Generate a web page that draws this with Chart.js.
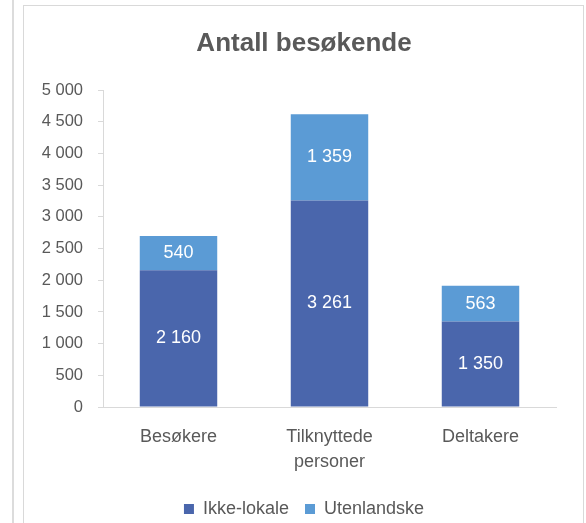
<!DOCTYPE html>
<html>
<head>
<meta charset="utf-8">
<script src="https://cdn.jsdelivr.net/npm/chart.js@4.4.1/dist/chart.umd.min.js"></script>
<style>
  body { margin: 0; background: #fff; overflow: hidden; }
  #sideLine { position: absolute; left: 12px; top: 0; width: 2px; height: 530px; background: #dcdcdc; }
  #frame { position: absolute; left: 23px; top: 5px; width: 561px; height: 600px; border: 1px solid #d9d9d9; box-sizing: border-box; }
  #wrap { position: absolute; left: 0; top: 0; width: 586px; height: 528px; }
</style>
</head>
<body>
<div id="sideLine"></div>
<div id="frame"></div>
<div id="wrap"><canvas id="myChart"></canvas></div>
<script>
// Chart data
const categories = [['Besøkere'], ['Tilknyttede', 'personer'], ['Deltakere']];
const ikkeLokale = [2160, 3261, 1350];
const utenlandske = [540, 1359, 563];
const yTicks = [0, 500, 1000, 1500, 2000, 2500, 3000, 3500, 4000, 4500, 5000];

const textGrey = '#595959';
const axisGrey = '#d9d9d9';

//Format numbers as "5 000"
function fmt(v) {
  return String(v).replace(/\B(?=(\d{3})+(?!\d))/g, ' ');
}

//Draw the white value labels in the middle of each segment
const barLabels = {
  id: 'barLabels',
  afterDatasetsDraw(chart) {
    const ctx = chart.ctx;
    ctx.save();
    ctx.font = '18px "Liberation Sans", Arial, sans-serif';
    ctx.fillStyle = '#ffffff';
    ctx.textAlign = 'center';
    ctx.textBaseline = 'middle';
    chart.data.datasets.forEach((ds, i) => {
      const meta = chart.getDatasetMeta(i);
      meta.data.forEach((bar, j) => {
        ctx.fillText(fmt(ds.data[j]), bar.x, (bar.y + bar.base) / 2);
      });
    });
    ctx.restore();
  }
};

Chart.defaults.font.family = '"Liberation Sans", Arial, sans-serif';
Chart.defaults.color = textGrey;

const ctx = document.getElementById('myChart');
const myChart = new Chart(ctx, {
  type: 'bar',
  data: {
    labels: categories,
    datasets: [
      {
        label: 'Ikke-lokale',
        data: ikkeLokale,
        backgroundColor: '#4a66ac',
        yAxisID: 'y',
        barPercentage: 0.513,
        categoryPercentage: 1
      },
      {
        label: 'Utenlandske',
        data: utenlandske,
        backgroundColor: '#5b9bd5',
        yAxisID: 'y',
        barPercentage: 0.513,
        categoryPercentage: 1
      }
    ]
  },
  options: {
    responsive: true,
    maintainAspectRatio: false,
    animation: false,
    layout: { padding: { left: 26, right: 4, top: 0, bottom: 0 } },
    plugins: {
      title: {
        display: true,
        text: 'Antall besøkende',
        color: textGrey,
        font: { size: 26, weight: 'bold' },
        padding: { top: 28, bottom: 31 }
      },
      legend: {
        position: 'bottom',
        labels: {
          boxWidth: 10,
          boxHeight: 10,
          padding: 16,
          color: textGrey,
          font: { size: 18 }
        }
      },
      tooltip: { enabled: false }
    },
    scales: {
      x: {
        stacked: true,
        grid: { display: false },
        border: { display: true, color: axisGrey, width: 1 },
        ticks: {
          color: textGrey,
          padding: 9,
          font: { size: 18, lineHeight: 1.4 }
        },
        afterFit(scale) { scale.height = 77; }
      },
      y: {
        stacked: true,
        min: 0,
        max: 5000,
        afterBuildTicks(scale) { scale.ticks = yTicks.map(v => ({ value: v })); },
        grid: {
          drawOnChartArea: false,
          drawTicks: true,
          tickLength: 5,
          color: axisGrey
        },
        border: { display: true, color: axisGrey, width: 1 },
        ticks: {
          color: textGrey,
          padding: 15,
          font: { size: 16.5 },
          callback: (v) => fmt(v)
        },
        afterFit(scale) { scale.width = 77; }
      },
      yr: {
        position: 'right',
        display: true,
        grid: { display: false },
        border: { display: false },
        ticks: { display: false },
        afterFit(scale) { scale.width = 26; }
      }
    }
  },
  plugins: [barLabels]
});
</script>
</body>
</html>
